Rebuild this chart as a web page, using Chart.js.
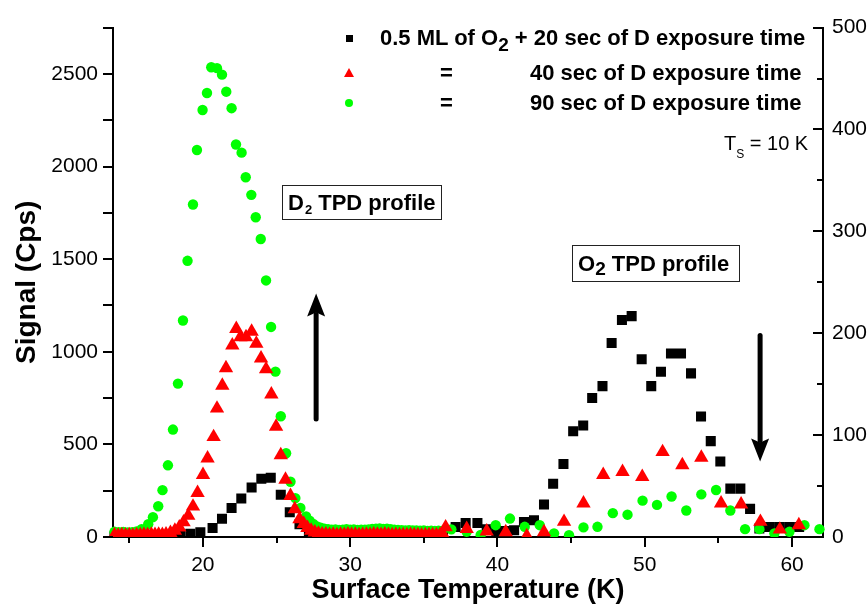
<!DOCTYPE html>
<html><head><meta charset="utf-8">
<script src="https://cdn.jsdelivr.net/npm/chart.js@4.4.1/dist/chart.umd.min.js"></script>
<style>
html,body{margin:0;padding:0;background:#fff;}
#wrap{position:relative;width:868px;height:608px;overflow:hidden;font-family:'Liberation Sans',Arial,sans-serif;color:#000;}
canvas{position:absolute;left:0;top:0;}
.t{position:absolute;white-space:nowrap;line-height:1;}
.b{font-weight:bold;}
.box{position:absolute;box-sizing:border-box;border:1.5px solid #222;display:flex;align-items:center;font-weight:bold;white-space:nowrap;line-height:1;}
</style></head><body>
<div id="wrap">
<canvas id="c" width="868" height="608"></canvas>

<div style="position:absolute;left:346px;top:35px;width:7px;height:7px;background:#000"></div>
<div class="t b" style="left:380px;top:27px;font-size:22px">0.5 ML of O<span style="font-size:19px;position:relative;top:6px">2</span> + 20 sec of D exposure time</div>

<div style="position:absolute;left:344px;top:68px;width:0;height:0;border-left:5px solid transparent;border-right:5px solid transparent;border-bottom:9px solid #f00"></div>
<div class="t b" style="left:440px;top:62px;font-size:22px">=</div>
<div class="t b" style="left:530px;top:62px;font-size:22px">40 sec of D exposure time</div>

<div style="position:absolute;left:345px;top:99px;width:8px;height:8px;border-radius:50%;background:#00ff00"></div>
<div class="t b" style="left:440px;top:92px;font-size:22px">=</div>
<div class="t b" style="left:530px;top:92px;font-size:22px">90 sec of D exposure time</div>

<div class="t" style="left:724px;top:133px;font-size:20px">T<span style="font-size:12px;position:relative;top:8px">S</span> = 10 K</div>

<div class="box" style="left:282px;top:185px;width:160px;height:35px;font-size:22px;padding-left:5px">D<span style="font-size:13px;position:relative;top:7px;margin-left:1px">2</span>&nbsp;TPD profile</div>
<div class="box" style="left:572px;top:245px;width:168px;height:37px;font-size:22px;padding-left:5px">O<span style="font-size:19px;position:relative;top:5px">2</span>&nbsp;TPD profile</div>
</div>

<script>
// ---- D2 TPD profile (left axis, Cps) ----
const tBlackD2 = [14.0,14.65,15.3,15.95,16.6,17.25,17.9,18.47,19.15,19.83,20.66,21.30,21.95,22.61,23.31,23.97,24.61,25.29,25.90,26.56,27.2,27.85,28.5,29.15,29.8,30.45,31.1,31.75,32.4,33.05,33.7,34.35,35.0,35.65,36.3];
const sBlackD2 = [3,2,3,2,3,3,5,12,18,25,49,99,157,208,267,314,320,228,134,69,15,8,5,4,5,4,5,4,5,4,5,4,5,4,5];

const tRedD2 = [14.0,14.25,14.5,14.75,15.0,15.25,15.5,15.75,16.0,16.25,16.5,16.75,17.0,17.25,17.5,17.8,18.1,18.4,
  18.69,19.01,19.33,19.64,20.01,20.32,20.73,20.96,21.32,21.57,22.00,22.27,22.55,22.93,23.31,23.63,23.95,24.29,24.65,24.97,25.29,25.61,25.95,26.24,26.56,26.85,
  27.1,27.35,27.6,27.85,28.1,28.35,28.6,28.85,29.1,29.35,29.6,29.85,30.1,30.35,30.6,30.85,31.1,31.35,31.6,31.85,32.1,32.35,32.6,32.85,33.1,33.35,33.6,33.85,34.1,34.35,34.6,34.85,35.1,35.35,35.6,35.85,36.1,36.3];
const sRedD2 = [10,8,11,9,10,8,11,10,12,11,13,12,13,12,14,22,35,52,
  80,115,165,239,336,425,540,694,818,912,1035,1124,1079,1079,1109,1044,965,906,770,596,442,310,222,151,97,71,
  50,35,25,19,15,14,12,13,11,13,12,14,12,13,11,12,13,12,14,13,12,14,12,11,12,10,11,10,12,10,11,9,11,10,11,10,12,14];

const tGreenD2 = [14.0,14.3,14.6,14.9,15.2,15.5,15.84,16.29,16.61,16.97,17.26,17.63,17.97,18.31,18.65,18.96,19.33,19.60,19.98,20.28,20.57,20.96,21.30,21.59,21.95,22.25,22.63,22.91,23.29,23.59,23.93,24.29,24.63,24.93,25.29,25.65,25.95,26.28,26.62,27.01,
  27.25,27.5,27.75,28.0,28.25,28.5,28.75,29.0,29.25,29.5,29.75,30.0,30.25,30.5,30.75,31.0,31.25,31.5,31.75,32.0,32.25,32.5,32.75,33.0,33.25,33.5,33.75,34.0,34.25,34.5,34.75,35.0,35.25,35.5,35.75,36.0,36.25];
const sGreenD2 = [28,26,27,25,26,30,42,69,107,166,253,387,580,828,1169,1491,1795,2089,2305,2397,2536,2531,2496,2404,2315,2119,2075,1942,1847,1726,1609,1385,1134,893,652,452,298,210,157,111,
  88,70,57,50,45,42,40,41,38,40,42,39,41,38,40,39,41,43,45,46,44,45,42,40,38,37,36,37,35,36,34,35,33,34,33,34,32];

// ---- O2 TPD profile (right axis) ----
const tBlackO2 = [37.16,37.84,38.64,39.27,39.92,40.49,41.13,41.80,42.48,43.16,43.78,44.48,45.14,45.82,46.43,47.13,47.75,48.45,49.11,49.79,50.44,51.10,51.78,52.46,53.14,53.82,54.48,55.13,55.81,56.49,57.15,57.78,58.44,59.12,59.80,60.48];
const sBlackO2 = [9.9,13.8,13.8,7.7,5.8,5.8,6.7,14.7,16.4,31.8,52.3,71.6,103.8,109.5,136.5,148.1,190.5,212.9,216.8,174.4,148.1,162.1,180.2,180.2,160.6,118.2,94.1,74.2,47.5,47.5,27.6,8.4,9.9,9.9,9.9,9.9];

const tRedO2 = [36.48,37.91,39.27,40.56,41.99,43.16,44.52,45.84,47.18,48.49,49.83,51.21,52.55,53.84,55.18,56.54,57.85,59.17,60.46];
const sRedO2 = [9.6,8,5.5,4.8,1,4.8,15,33,61,64,59,83.5,70.5,78,33,32,15,7.4,11.8];

const tGreenO2 = [36.87,37.91,38.86,39.88,40.85,41.85,42.87,43.84,44.86,45.84,46.79,47.83,48.83,49.85,50.83,51.82,52.82,53.84,54.84,55.81,56.81,57.78,58.80,59.82,60.84,61.86];
const sGreenO2 = [7.5,5.1,2,11.6,18.1,10,11.6,3.6,1.7,9.4,10,23.4,21.9,35.7,31.5,39.8,26,41.8,46.1,26,7.7,7.7,3.6,5.1,11.6,7.7];

// axis ranges and tick labels
const xRange = [13.9, 62.1];
const xLabelTicks = [20, 30, 40, 50, 60];
const leftRange = [0, 2750];
const leftLabelTicks = [0, 500, 1000, 1500, 2000, 2500];
const rightRange = [0, 500];
const rightLabelTicks = [0, 100, 200, 300, 400, 500];

// annotation arrows (data coordinates)
const upArrow = {t: 27.69, from: 637, to: 1314};     // left axis
const downArrow = {t: 57.83, from: 197.8, to: 74.2}; // right axis

function pts(t, s) { return t.map((x, i) => ({x: x, y: s[i]})); }

Chart.defaults.font.family = "'Liberation Sans', Arial, sans-serif";
Chart.defaults.font.size = 21;
Chart.defaults.color = '#000';

const BLACK = '#000000', RED = '#ff0000', GREEN = '#00ff00';
const clip = {left: 20, right: 20, top: 20, bottom: 0};
function ds(data, axis, style, r, color, order) {
  return {data: data, yAxisID: axis, pointStyle: style, pointRadius: r, pointHoverRadius: r,
    pointBackgroundColor: color, pointBorderColor: color, pointBorderWidth: 0,
    showLine: false, clip: clip, order: order};
}

function drawArrow(ctx, x, y0, y1) {
  const dir = Math.sign(y1 - y0), headLen = 23, headW = 9;
  ctx.save();
  ctx.strokeStyle = '#000'; ctx.fillStyle = '#000';
  ctx.lineWidth = 5; ctx.lineCap = 'round';
  ctx.beginPath(); ctx.moveTo(x, y0); ctx.lineTo(x, y1 - dir * (headLen - 2)); ctx.stroke();
  ctx.beginPath(); ctx.moveTo(x, y1);
  ctx.lineTo(x - headW, y1 - dir * headLen);
  ctx.lineTo(x, y1 - dir * (headLen - 4));
  ctx.lineTo(x + headW, y1 - dir * headLen);
  ctx.closePath(); ctx.fill();
  ctx.restore();
}

const extras = {
  id: 'extras',
  afterDraw(chart) {
    const ctx = chart.ctx, sx = chart.scales.x, sy = chart.scales.y, sy2 = chart.scales.y2;
    const a = chart.chartArea;
    ctx.save();
    ctx.strokeStyle = '#000'; ctx.lineWidth = 2; ctx.lineCap = 'butt';
    ctx.beginPath();
    sy.ticks.forEach(tk => { const y = Math.round(sy.getPixelForValue(tk.value)); ctx.moveTo(a.left - 10, y); ctx.lineTo(a.left, y); });
    sx.ticks.forEach(tk => {
      const x = Math.round(sx.getPixelForValue(tk.value));
      const len = xLabelTicks.includes(tk.value) ? 10 : 6;
      ctx.moveTo(x, a.bottom); ctx.lineTo(x, a.bottom + len);
    });
    sy2.ticks.forEach(tk => {
      const y = Math.round(sy2.getPixelForValue(tk.value));
      const len = rightLabelTicks.includes(tk.value) ? 10 : 6;
      ctx.moveTo(a.right, y); ctx.lineTo(a.right - len, y);
    });
    ctx.stroke();
    ctx.restore();
    drawArrow(ctx, sx.getPixelForValue(upArrow.t), sy.getPixelForValue(upArrow.from), sy.getPixelForValue(upArrow.to));
    drawArrow(ctx, sx.getPixelForValue(downArrow.t), sy2.getPixelForValue(downArrow.from), sy2.getPixelForValue(downArrow.to));
  }
};

const axisBorder = {display: true, color: '#000', width: 2};
const noGrid = {display: true, drawOnChartArea: false, drawTicks: false};

new Chart(document.getElementById('c'), {
  type: 'scatter',
  data: {datasets: [
    ds(pts(tRedD2, sRedD2), 'y', 'triangle', 8.3, RED, 0),
    ds(pts(tRedO2, sRedO2), 'y2', 'triangle', 8.3, RED, 0),
    ds(pts(tGreenD2, sGreenD2), 'y', 'circle', 5.2, GREEN, 1),
    ds(pts(tGreenO2, sGreenO2), 'y2', 'circle', 5.2, GREEN, 1),
    ds(pts(tBlackD2, sBlackD2), 'y', 'rect', 7.1, BLACK, 2),
    ds(pts(tBlackO2, sBlackO2), 'y2', 'rect', 7.1, BLACK, 2)
  ]},
  options: {
    responsive: false, animation: false, events: [],
    layout: {padding: {top: 18, left: 0, right: 0, bottom: 0}},
    plugins: {legend: {display: false}, tooltip: {enabled: false}},
    scales: {
      x: {type: 'linear', position: 'bottom', min: xRange[0], max: xRange[1],
        grid: noGrid, border: axisBorder,
        ticks: {stepSize: 5, includeBounds: false, padding: 16, maxRotation: 0, autoSkip: false,
          callback: v => xLabelTicks.includes(v) ? String(v) : ''},
        title: {display: true, text: 'Surface Temperature (K)', color: '#000', font: {size: 27, weight: 'bold'}, padding: {top: 0, bottom: 1}},
        afterFit: s => { s.height = 71; }
      },
      y: {type: 'linear', position: 'left', min: leftRange[0], max: leftRange[1],
        grid: noGrid, border: axisBorder,
        ticks: {stepSize: 250, padding: 15, autoSkip: false,
          callback: v => leftLabelTicks.includes(v) ? String(v) : ''},
        title: {display: true, text: 'Signal (Cps)', color: '#000', font: {size: 28, weight: 'bold'}, padding: {top: 10, bottom: 0}},
        afterFit: s => { s.width = 113; }
      },
      y2: {type: 'linear', position: 'right', min: rightRange[0], max: rightRange[1],
        grid: noGrid, border: axisBorder,
        ticks: {stepSize: 50, padding: 9, autoSkip: false,
          callback: v => rightLabelTicks.includes(v) ? String(v) : ''},
        afterFit: s => { s.width = 45; }
      }
    }
  },
  plugins: [extras]
});
</script>
</body></html>
